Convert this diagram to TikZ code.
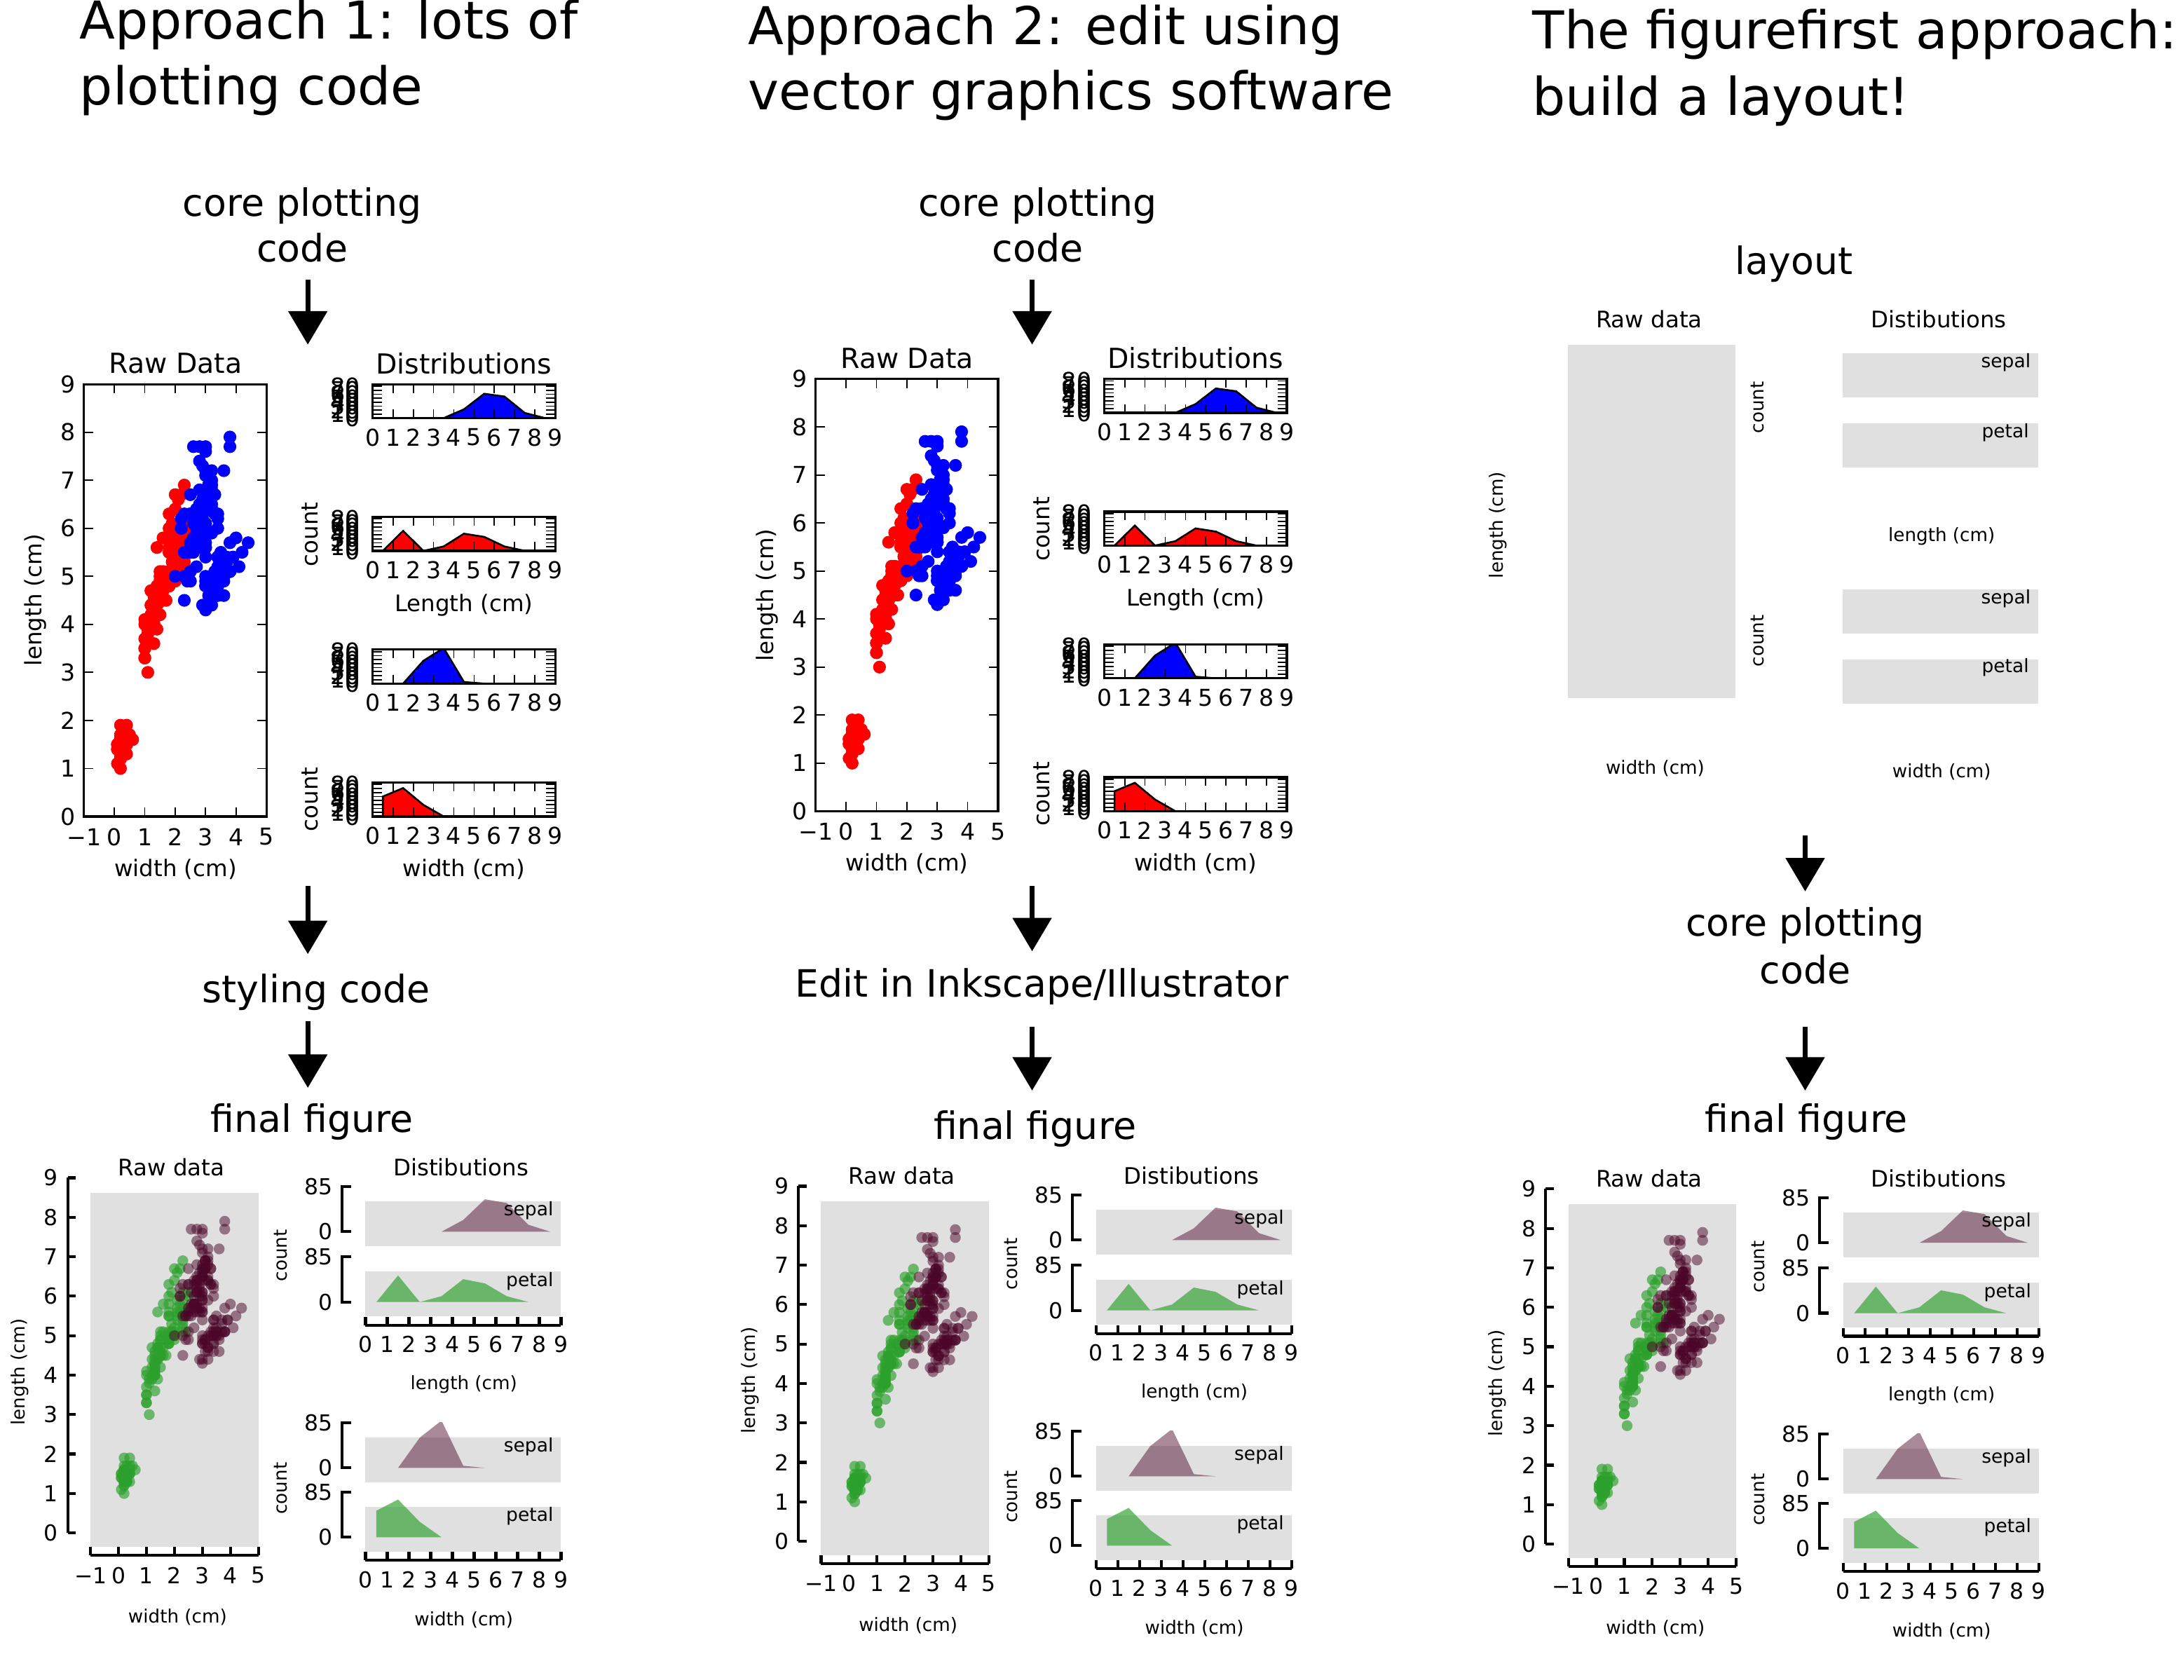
\documentclass[tikz,border=0pt]{standalone}
\usepackage{fontspec}
\setmainfont{DejaVu Sans}
\usetikzlibrary{arrows.meta}

\definecolor{rawred}{RGB}{255,0,0}
\definecolor{rawblue}{RGB}{0,0,255}
\definecolor{figgray}{RGB}{224,224,224}
\definecolor{petalgreen}{RGB}{44,160,44}
\definecolor{sepalred}{RGB}{75,5,40}

\def\irisdata{5.1/3.5/1.4/0.2, 4.9/3.0/1.4/0.2, 4.7/3.2/1.3/0.2, 4.6/3.1/1.5/0.2, 5.0/3.6/1.4/0.2,
5.4/3.9/1.7/0.4, 4.6/3.4/1.4/0.3, 5.0/3.4/1.5/0.2, 4.4/2.9/1.4/0.2, 4.9/3.1/1.5/0.1,
5.4/3.7/1.5/0.2, 4.8/3.4/1.6/0.2, 4.8/3.0/1.4/0.1, 4.3/3.0/1.1/0.1, 5.8/4.0/1.2/0.2,
5.7/4.4/1.5/0.4, 5.4/3.9/1.3/0.4, 5.1/3.5/1.4/0.3, 5.7/3.8/1.7/0.3, 5.1/3.8/1.5/0.3,
5.4/3.4/1.7/0.2, 5.1/3.7/1.5/0.4, 4.6/3.6/1.0/0.2, 5.1/3.3/1.7/0.5, 4.8/3.4/1.9/0.2,
5.0/3.0/1.6/0.2, 5.0/3.4/1.6/0.4, 5.2/3.5/1.5/0.2, 5.2/3.4/1.4/0.2, 4.7/3.2/1.6/0.2,
4.8/3.1/1.6/0.2, 5.4/3.4/1.5/0.4, 5.2/4.1/1.5/0.1, 5.5/4.2/1.4/0.2, 4.9/3.1/1.5/0.2,
5.0/3.2/1.2/0.2, 5.5/3.5/1.3/0.2, 4.9/3.6/1.4/0.1, 4.4/3.0/1.3/0.2, 5.1/3.4/1.5/0.2,
5.0/3.5/1.3/0.3, 4.5/2.3/1.3/0.3, 4.4/3.2/1.3/0.2, 5.0/3.5/1.6/0.6, 5.1/3.8/1.9/0.4,
4.8/3.0/1.4/0.3, 5.1/3.8/1.6/0.2, 4.6/3.2/1.4/0.2, 5.3/3.7/1.5/0.2, 5.0/3.3/1.4/0.2,
7.0/3.2/4.7/1.4, 6.4/3.2/4.5/1.5, 6.9/3.1/4.9/1.5, 5.5/2.3/4.0/1.3, 6.5/2.8/4.6/1.5,
5.7/2.8/4.5/1.3, 6.3/3.3/4.7/1.6, 4.9/2.4/3.3/1.0, 6.6/2.9/4.6/1.3, 5.2/2.7/3.9/1.4,
5.0/2.0/3.5/1.0, 5.9/3.0/4.2/1.5, 6.0/2.2/4.0/1.0, 6.1/2.9/4.7/1.4, 5.6/2.9/3.6/1.3,
6.7/3.1/4.4/1.4, 5.6/3.0/4.5/1.5, 5.8/2.7/4.1/1.0, 6.2/2.2/4.5/1.5, 5.6/2.5/3.9/1.1,
5.9/3.2/4.8/1.8, 6.1/2.8/4.0/1.3, 6.3/2.5/4.9/1.5, 6.1/2.8/4.7/1.2, 6.4/2.9/4.3/1.3,
6.6/3.0/4.4/1.4, 6.8/2.8/4.8/1.4, 6.7/3.0/5.0/1.7, 6.0/2.9/4.5/1.5, 5.7/2.6/3.5/1.0,
5.5/2.4/3.8/1.1, 5.5/2.4/3.7/1.0, 5.8/2.7/3.9/1.2, 6.0/2.7/5.1/1.6, 5.4/3.0/4.5/1.5,
6.0/3.4/4.5/1.6, 6.7/3.1/4.7/1.5, 6.3/2.3/4.4/1.3, 5.6/3.0/4.1/1.3, 5.5/2.5/4.0/1.3,
5.5/2.6/4.4/1.2, 6.1/3.0/4.6/1.4, 5.8/2.6/4.0/1.2, 5.0/2.3/3.3/1.0, 5.6/2.7/4.2/1.3,
5.7/3.0/4.2/1.2, 5.7/2.9/4.2/1.3, 6.2/2.9/4.3/1.3, 5.1/2.5/3.0/1.1, 5.7/2.8/4.1/1.3,
6.3/3.3/6.0/2.5, 5.8/2.7/5.1/1.9, 7.1/3.0/5.9/2.1, 6.3/2.9/5.6/1.8, 6.5/3.0/5.8/2.2,
7.6/3.0/6.6/2.1, 4.9/2.5/4.5/1.7, 7.3/2.9/6.3/1.8, 6.7/2.5/5.8/1.8, 7.2/3.6/6.1/2.5,
6.5/3.2/5.1/2.0, 6.4/2.7/5.3/1.9, 6.8/3.0/5.5/2.1, 5.7/2.5/5.0/2.0, 5.8/2.8/5.1/2.4,
6.4/3.2/5.3/2.3, 6.5/3.0/5.5/1.8, 7.7/3.8/6.7/2.2, 7.7/2.6/6.9/2.3, 6.0/2.2/5.0/1.5,
6.9/3.2/5.7/2.3, 5.6/2.8/4.9/2.0, 7.7/2.8/6.7/2.0, 6.3/2.7/4.9/1.8, 6.7/3.3/5.7/2.1,
7.2/3.2/6.0/1.8, 6.2/2.8/4.8/1.8, 6.1/3.0/4.9/1.8, 6.4/2.8/5.6/2.1, 7.2/3.0/5.8/1.6,
7.4/2.8/6.1/1.9, 7.9/3.8/6.4/2.0, 6.4/2.8/5.6/2.2, 6.3/2.8/5.1/1.5, 6.1/2.6/5.6/1.4,
7.7/3.0/6.1/2.3, 6.3/3.4/5.6/2.4, 6.4/3.1/5.5/1.8, 6.0/3.0/4.8/1.8, 6.9/3.1/5.4/2.1,
6.7/3.1/5.6/2.4, 6.9/3.1/5.1/2.3, 5.8/2.7/5.1/1.9, 6.8/3.2/5.9/2.3, 6.7/3.3/5.7/2.5,
6.7/3.0/5.2/2.3, 6.3/2.5/5.0/1.9, 6.5/3.0/5.2/2.0, 6.2/3.4/5.4/2.3, 5.9/3.0/5.1/1.8}

\tikzset{
  headline/.style={font=\fontsize{21.3}{25}\selectfont, anchor=base west, inner sep=0pt},
  steplabel/.style={font=\fontsize{15.4}{18}\selectfont, anchor=base, inner sep=0pt},
  bigarrow/.style={line width=1.9pt, -{Triangle[length=0.48cm,width=0.55cm]}},
  rawtitle/.style={font=\fontsize{11.3}{13}\selectfont, inner sep=0pt},
  rawlabel/.style={font=\fontsize{9.3}{11}\selectfont, inner sep=0pt},
  rawtick/.style={font=\fontsize{9.5}{11}\selectfont, inner sep=0pt},
  rawframe/.style={line width=0.9pt},
  rawtickline/.style={line width=0.5pt},
  figtitle/.style={font=\fontsize{9.3}{11}\selectfont, inner sep=0pt},
  figlabel/.style={font=\fontsize{7.5}{9}\selectfont, inner sep=0pt},
  figtick/.style={font=\fontsize{9}{11}\selectfont, inner sep=0pt},
  tag/.style={font=\fontsize{7.6}{9}\selectfont, inner sep=0pt, anchor=east},
  spine/.style={line width=1.2pt},
  sepalfill/.style={fill=sepalred, fill opacity=0.47},
  petalfill/.style={fill=petalgreen, fill opacity=0.66}
}

\newcommand{\rawpanel}[4]{%
  \begin{scope}[shift={(267.6,#2)}, x=0.2911cm, y=0.005741cm]
    \begin{scope}
      \clip (0,0) rectangle (9,85);
      \filldraw[fill=#3, draw=black, line width=0.75pt] #4 -- cycle;
    \end{scope}
    \foreach \k in {1,...,8} {\draw[rawtickline] (\k,0) -- ++(0,0.126cm) (\k,85) -- ++(0,-0.126cm);}
    \foreach \cnt in {10,20,...,80} {\draw[rawtickline] (0,\cnt) -- ++(0.13cm,0) (9,\cnt) -- ++(-0.13cm,0);}
    \draw[rawframe] (0,0) rectangle (9,85);
    \foreach \cnt in {0,10,...,80} {\node[rawtick, anchor=east, xshift=-0.18cm] (#1y\cnt) at (0,\cnt) {\cnt};}
    \foreach \k in {0,...,9} {\node[rawtick, yshift=-0.276cm] (#1x\k) at (\k,0) {\k};}
  \end{scope}}

\newcommand{\rawfig}[1]{%
  \begin{scope}[shift={(82.13,586.2)}, x=0.4366cm, y=0.6898cm]
    \foreach \slen/\swid/\plen/\pwid in \irisdata {\fill[rawred] (\pwid,\plen) circle (0.092cm);}
    \foreach \slen/\swid/\plen/\pwid in \irisdata {\fill[rawblue] (\swid,\slen) circle (0.092cm);}
    \foreach \k in {0,...,4} {\draw[rawtickline] (\k,0) -- ++(0,0.13cm) (\k,9) -- ++(0,-0.13cm);}
    \foreach \k in {1,...,8} {\draw[rawtickline] (-1,\k) -- ++(0.13cm,0) (5,\k) -- ++(-0.13cm,0);}
    \draw[rawframe] (-1,0) rectangle (5,9);
    \node[rawtick, yshift=-0.292cm] (#1xm) at (-1,0) {−1};
    \foreach \k in {0,...,5} {\node[rawtick, yshift=-0.292cm] (#1x\k) at (\k,0) {\k};}
    \foreach \k in {0,...,9} {\node[rawtick, xshift=-0.232cm] (#1y\k) at (-1,\k) {\k};}
  \end{scope}
  \node[rawtitle] (#1t) at (126,261) {Raw Data};
  \node[rawlabel] (#1w) at (126,624) {width (cm)};
  \node[rawlabel, rotate=90] (#1l) at (25.4,431) {length (cm)};
  \node[rawtitle] (#1d) at (333,261) {Distributions};
  \rawpanel{#1a}{300.2}{rawblue}{(3.5,0) -- (4.5,22) -- (5.5,61) -- (6.5,54) -- (7.5,13) -- (8.5,0)}
  \rawpanel{#1b}{395.5}{rawred}{(0.5,0) -- (1.5,50) -- (2.5,0) -- (3.5,11) -- (4.5,43) -- (5.5,35) -- (6.5,11) -- (7.5,0)}
  \rawpanel{#1c}{490.8}{rawblue}{(1.5,0) -- (2.5,57) -- (3.5,89) -- (4.5,4) -- (5.5,0)}
  \rawpanel{#1e}{586.2}{rawred}{(0.5,0) -- (0.5,50) -- (1.5,71) -- (2.5,29) -- (3.5,0)}
  \node[rawlabel] (#1ll) at (333,434.3) {Length (cm)};
  \node[rawlabel] (#1wl) at (333,624) {width (cm)};
  \node[rawlabel, rotate=90] (#1c1) at (222.6,383.7) {count};
  \node[rawlabel, rotate=90] (#1c2) at (222.6,573.8) {count};
}

\newcommand{\finalpanel}[5]{%
  \fill[figgray] (262.4,{#2-22}) rectangle (402.8,{#2+10.2});
  \begin{scope}[shift={(262.4,#2)}, x=0.312cm, y=0.007624cm]
    \clip (0,0) rectangle (9,85);
    \fill[#3] #4 -- cycle;
  \end{scope}
  \draw[spine] (252.1,{#2-32.4}) -- (245.5,{#2-32.4}) -- (245.5,#2) -- (252.1,#2);
  \node[figtick, anchor=east] (#1top) at (239,{#2-32.4}) {85};
  \node[figtick, anchor=east] (#1zero) at (239,#2) {0};
  \node[tag] (#1tag) at (397.6,{#2-15}) {#5};
}

\newcommand{\finalfig}[1]{%
  \fill[figgray] (65,856.3) rectangle (185.5,1110.8);
  \begin{scope}[shift={(85.08,1100.6)}, x=0.4016cm, y=0.5666cm]
    \foreach \slen/\swid/\plen/\pwid in \irisdata {\fill[petalgreen, fill opacity=0.65] (\pwid,\plen) circle (0.078cm);}
    \foreach \slen/\swid/\plen/\pwid in \irisdata {\fill[sepalred, fill opacity=0.5] (\swid,\slen) circle (0.078cm);}
  \end{scope}
  \draw[spine] (48.7,845.6) -- (48.7,1100.6);
  \foreach \k in {0,...,9} {
    \draw[spine] (48.7,{1100.6-28.33*\k}) -- ++(0.116cm,0);
    \node[figtick, anchor=east] (#1y\k) at (42,{1100.6-28.33*\k}) {\k};
  }
  \draw[spine] (65,1116.7) -- (185.5,1116.7);
  \foreach \k in {-1,...,5} {\draw[spine] ({85.08+20.08*\k},1116.7) -- ++(0,0.118cm);}
  \node[figtick] (#1xm) at (65,1131) {−1};
  \foreach \k in {0,...,5} {\node[figtick] (#1x\k) at ({85.08+20.08*\k},1131) {\k};}
  \node[figtitle] (#1t) at (123,838) {Raw data};
  \node[figlabel] (#1w) at (127.5,1161) {width (cm)};
  \node[figlabel, rotate=90] (#1l) at (14.2,985) {length (cm)};
  \node[figtitle] (#1d) at (331,838) {Distibutions};
  \finalpanel{#1a}{884.3}{sepalfill}{(3.5,0) -- (4.5,22) -- (5.5,61) -- (6.5,54) -- (7.5,13) -- (8.5,0)}{sepal}
  \finalpanel{#1b}{934.8}{petalfill}{(0.5,0) -- (1.5,50) -- (2.5,0) -- (3.5,11) -- (4.5,43) -- (5.5,35) -- (6.5,11) -- (7.5,0)}{petal}
  \finalpanel{#1c}{1053.9}{sepalfill}{(1.5,0) -- (2.5,57) -- (3.5,89) -- (4.5,4) -- (5.5,0)}{sepal}
  \finalpanel{#1e}{1103.7}{petalfill}{(0.5,0) -- (0.5,50) -- (1.5,71) -- (2.5,29) -- (3.5,0)}{petal}
  \draw[spine] (262.4,951.4) -- (402.8,951.4);
  \draw[spine] (262.4,1120.3) -- (402.8,1120.3);
  \foreach \k in {0,...,9} {
    \draw[spine] ({262.4+15.6*\k},951.4) -- ++(0,0.12cm);
    \draw[spine] ({262.4+15.6*\k},1120.3) -- ++(0,0.12cm);
    \node[figtick] (#1p\k) at ({262.4+15.6*\k},965.3) {\k};
    \node[figtick] (#1q\k) at ({262.4+15.6*\k},1134.2) {\k};
  }
  \node[figlabel] (#1pl) at (333,994.1) {length (cm)};
  \node[figlabel] (#1ql) at (333,1163) {width (cm)};
  \node[figlabel, rotate=90] (#1c1) at (201.3,901.4) {count};
  \node[figlabel, rotate=90] (#1c2) at (201.3,1068.6) {count};
}

\begin{document}
\begin{tikzpicture}[x=0.02cm,y=-0.02cm]
  \useasboundingbox (0,0) rectangle (1568,1206);
  \fill[white] (0,0) rectangle (1568,1206);

  \node[headline] (h1a) at (57,28) {Approach 1: lots of};
  \node[headline] (h1b) at (57,75) {plotting code};
  \node[headline] (h2a) at (537,32) {Approach 2: edit using};
  \node[headline] (h2b) at (537,79) {vector graphics software};
  \node[headline] (h3a) at (1100,35) {The figurefirst approach:};
  \node[headline] (h3b) at (1100,83) {build a layout!};

  \node[steplabel] (core1a) at (217,155) {core plotting};
  \node[steplabel] (core1b) at (217,188) {code};
  \node[steplabel] (style1) at (227,720) {styling code};
  \node[steplabel] (final1) at (224,813) {final figure};
  \node[steplabel] (core2a) at (745,155) {core plotting};
  \node[steplabel] (core2b) at (745,188) {code};
  \node[steplabel] (edit2) at (748,716) {Edit in Inkscape/Illustrator};
  \node[steplabel] (final2) at (743,818) {final figure};
  \node[steplabel] (layout3) at (1288,197) {layout};
  \node[steplabel] (core3a) at (1296,672) {core plotting};
  \node[steplabel] (core3b) at (1296,706) {code};
  \node[steplabel] (final3) at (1297,813) {final figure};

  \coordinate (a1s) at (221,200.7);  \coordinate (a1e) at (221,247.4);
  \coordinate (a2s) at (221,636);    \coordinate (a2e) at (221,685);
  \coordinate (a3s) at (221,733);    \coordinate (a3e) at (221,781);
  \coordinate (b1s) at (741,200.7);  \coordinate (b1e) at (741,247.4);
  \coordinate (b2s) at (741,636);    \coordinate (b2e) at (741,683);
  \coordinate (b3s) at (741,737);    \coordinate (b3e) at (741,783);
  \coordinate (c1s) at (1296,600);   \coordinate (c1e) at (1296,640);
  \coordinate (c2s) at (1296,737);   \coordinate (c2e) at (1296,783);
  \foreach \s/\e in {a1s/a1e, a2s/a2e, a3s/a3e, b1s/b1e, b2s/b2e, b3s/b3e, c1s/c1e, c2s/c2e}
    \draw[bigarrow] (\s) -- (\e);

  \rawfig{A}
  \begin{scope}[shift={(525.3,-3.8)}]
    \rawfig{B}
  \end{scope}

  \node[figtitle] (lraw) at (1184,229) {Raw data};
  \fill[figgray] (1125.8,247.4) rectangle (1245.9,501.4);
  \node[figlabel, rotate=90] (llen) at (1075.5,377) {length (cm)};
  \node[figlabel] (lwid) at (1188.3,551.8) {width (cm)};
  \node[figlabel, rotate=90] (lcnt1) at (1262,292.5) {count};
  \node[figlabel, rotate=90] (lcnt2) at (1262,460) {count};
  \node[figtitle] (ldist) at (1392,229) {Distibutions};
  \fill[figgray] (1323.1,253.7) rectangle (1463.2,285.2);
  \fill[figgray] (1323.1,304.1) rectangle (1463.2,335.6);
  \fill[figgray] (1323.1,423.1) rectangle (1463.2,454.9);
  \fill[figgray] (1323.1,473.3) rectangle (1463.2,505.1);
  \node[tag] (ltag1) at (1458.2,260.5) {sepal};
  \node[tag] (ltag2) at (1457,310.4) {petal};
  \node[tag] (ltag3) at (1458.2,430) {sepal};
  \node[tag] (ltag4) at (1457,479.3) {petal};
  \node[figlabel] (llen2) at (1394,385) {length (cm)};
  \node[figlabel] (lwid2) at (1394,554) {width (cm)};

  \finalfig{F}
  \begin{scope}[shift={(524.5,6)}]
    \finalfig{G}
  \end{scope}
  \begin{scope}[shift={(1061,8)}]
    \finalfig{H}
  \end{scope}
\end{tikzpicture}
\end{document}
